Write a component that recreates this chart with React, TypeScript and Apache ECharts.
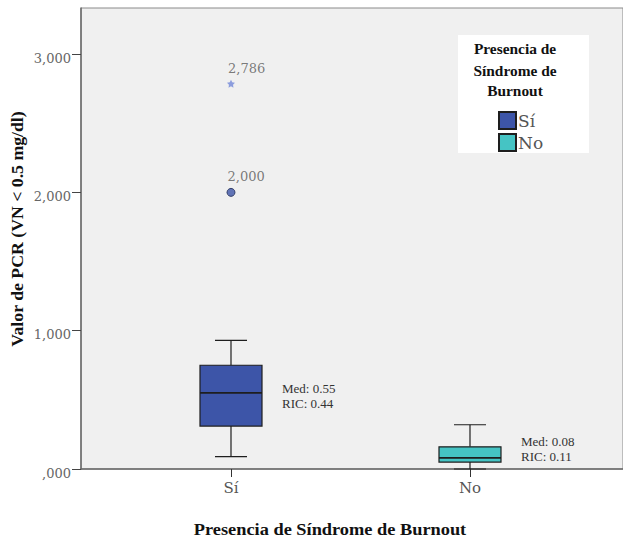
import React, { useEffect, useRef } from "react";
import * as echarts from "echarts";

const categories = ["Sí", "No"];
const boxColors = ["#3d55a8", "#45c4c4"];
// [min, Q1, median, Q3, max]
const boxStats = [
  [0.09, 0.31, 0.55, 0.75, 0.93],
  [0.0, 0.05, 0.08, 0.16, 0.32],
];
const outlierCircle = [[1, 2.0]];
const outlierStar = [[1, 2.786]];
const yTicks = [0, 1, 2, 3];
const legendTitle = ["Presencia de", "Síndrome de", "Burnout"];
const xTitle = "Presencia de Síndrome de Burnout";
const yTitle = "Valor de PCR (VN < 0.5 mg/dl)";

const SERIF = "'Liberation Serif', 'Times New Roman', serif";
const WIDE = "'DejaVu Serif', serif";
const fmt = (v: number) => {
  const s = v.toFixed(3).replace(".", ",");
  return s.startsWith("0") ? s.slice(1) : s;
};

export default function App() {
  const ref = useRef<HTMLDivElement>(null);
  useEffect(() => {
    if (!ref.current) return;
    const chart = echarts.init(ref.current, undefined, { renderer: "svg" });
    const boxData = boxStats.map((s, i) => [i + 1, ...s]);
    const outlierLabel = {
      show: true,
      position: [1, -11],
      formatter: (p: any) => fmt(p.value[1]),
      fontFamily: WIDE,
      fontSize: 13,
      color: "#5a5a5a",
      align: "left",
      verticalAlign: "middle",
    };
    const option: any = {
      animation: false,
      backgroundColor: "#ffffff",
      grid: {
        left: 81,
        top: 8,
        right: 0,
        bottom: 68,
        show: true,
        backgroundColor: "#f0f0f0",
        borderColor: "#8a8a8a",
        borderWidth: 1,
      },
      xAxis: {
        type: "value",
        min: 0.3724,
        max: 2.6402,
        splitLine: { show: false },
        axisLine: { show: true, lineStyle: { color: "#6a6a6a", width: 1.5 } },
        axisTick: {
          show: true,
          customValues: [1, 2],
          length: 8,
          lineStyle: { color: "#333" },
        },
        axisLabel: {
          customValues: [1, 2],
          formatter: (v: number) => categories[Math.round(v) - 1] ?? "",
          fontFamily: WIDE,
          fontSize: 15,
          color: "#555",
          margin: 11,
        },
      },
      yAxis: {
        type: "value",
        min: 0,
        max: 3.333,
        splitLine: { show: false },
        axisLine: { show: true, lineStyle: { color: "#6a6a6a", width: 1.5 } },
        axisTick: { show: true, customValues: yTicks, length: 9, lineStyle: { color: "#444" } },
        axisLabel: {
          customValues: yTicks,
          formatter: (v: number) => fmt(v),
          fontFamily: WIDE,
          fontSize: 13,
          color: "#666",
          margin: 10,
          verticalAlign: "top",
          lineHeight: 8,
        },
      },
      series: [
        {
          type: "custom",
          data: boxData,
          renderItem: (params: any, api: any) => {
            const x = api.value(0);
            const lo = api.coord([x, api.value(1)]);
            const q1 = api.coord([x, api.value(2)]);
            const md = api.coord([x, api.value(3)]);
            const q3 = api.coord([x, api.value(4)]);
            const hi = api.coord([x, api.value(5)]);
            const axisY = api.coord([x, 0])[1];
            const cx = lo[0];
            const bw = 62;
            const cw = 32;
            const color = boxColors[params.dataIndex];
            const stroke = { stroke: "#1e1e1e", lineWidth: 1.2 };
            const med = api.value(3);
            const ric = api.value(4) - api.value(2);
            const cy = Math.min((q1[1] + q3[1]) / 2, axisY - 20);
            return {
              type: "group",
              children: [
                { type: "line", shape: { x1: cx, y1: q1[1], x2: cx, y2: lo[1] }, style: stroke },
                { type: "line", shape: { x1: cx, y1: q3[1], x2: cx, y2: hi[1] }, style: stroke },
                { type: "line", shape: { x1: cx - cw / 2, y1: lo[1], x2: cx + cw / 2, y2: lo[1] }, style: stroke },
                { type: "line", shape: { x1: cx - cw / 2, y1: hi[1], x2: cx + cw / 2, y2: hi[1] }, style: stroke },
                {
                  type: "rect",
                  shape: { x: cx - bw / 2, y: q3[1], width: bw, height: q1[1] - q3[1] },
                  style: { fill: color, stroke: "#1e1e1e", lineWidth: 1.2 },
                },
                { type: "line", shape: { x1: cx - bw / 2, y1: md[1], x2: cx + bw / 2, y2: md[1] }, style: { stroke: "#1e1e1e", lineWidth: 1.8 } },
                {
                  type: "text",
                  style: {
                    x: cx + 51,
                    y: cy - 7.5,
                    text: "Med: " + med.toFixed(2),
                    font: `13px ${SERIF}`,
                    fill: "#333",
                    verticalAlign: "middle",
                    align: "left",
                  },
                },
                {
                  type: "text",
                  style: {
                    x: cx + 51,
                    y: cy + 7.5,
                    text: "RIC: " + ric.toFixed(2),
                    font: `13px ${SERIF}`,
                    fill: "#333",
                    verticalAlign: "middle",
                    align: "left",
                  },
                },
              ],
            };
          },
          z: 3,
        },
        {
          type: "scatter",
          data: outlierCircle,
          symbol: "circle",
          symbolSize: 8,
          itemStyle: { color: "#3d55a8", borderColor: "#1e2a55", borderWidth: 1 },
          label: outlierLabel,
          z: 4,
        },
        {
          type: "scatter",
          data: outlierStar,
          symbol:
            "path://M0,-10 L2.9,-4 L9.5,-3.1 L4.8,1.5 L5.9,8.1 L0,5 L-5.9,8.1 L-4.8,1.5 L-9.5,-3.1 L-2.9,-4Z",
          symbolSize: 8,
          itemStyle: { color: "#7388d8" },
          label: outlierLabel,
          z: 4,
        },
      ],
      graphic: [
        {
          type: "text",
          x: 330,
          y: 529.6,
          scaleX: 1.147,
          style: {
            text: xTitle,
            font: `bold 16px ${SERIF}`,
            fill: "#111",
            align: "center",
            verticalAlign: "middle",
          },
        },
        {
          type: "text",
          x: 17.5,
          y: 229,
          rotation: Math.PI / 2,
          scaleX: 1.11,
          style: {
            text: yTitle,
            font: `bold 16px ${SERIF}`,
            fill: "#111",
            align: "center",
            verticalAlign: "middle",
          },
        },
        {
          type: "group",
          x: 458,
          y: 35,
          children: [
            { type: "rect", shape: { x: 0, y: 0, width: 131, height: 118 }, style: { fill: "#ffffff" } },
            ...legendTitle.map((t, i) => ({
              type: "text",
              x: 57,
              y: [14.7, 36, 55.8][i],
              scaleX: 1.1,
              style: { text: t, font: `bold 14px ${SERIF}`, fill: "#111", align: "center", verticalAlign: "middle" },
            })),
            ...categories.flatMap((c, i) => [
              {
                type: "rect",
                shape: { x: 41, y: 77 + i * 22, width: 17, height: 17 },
                style: { fill: boxColors[i], stroke: "#1e1e1e", lineWidth: 2 },
              },
              {
                type: "text",
                style: {
                  x: 60,
                  y: 86 + i * 22,
                  text: c,
                  font: `17px ${WIDE}`,
                  fill: "#555",
                  align: "left",
                  verticalAlign: "middle",
                },
              },
            ]),
          ],
        },
      ],
    };
    chart.setOption(option);
    return () => chart.dispose();
  }, []);
  return (
    <div
      ref={ref}
      style={{ position: "fixed", left: 0, top: 0, width: 623, height: 537 }}
    />
  );
}
